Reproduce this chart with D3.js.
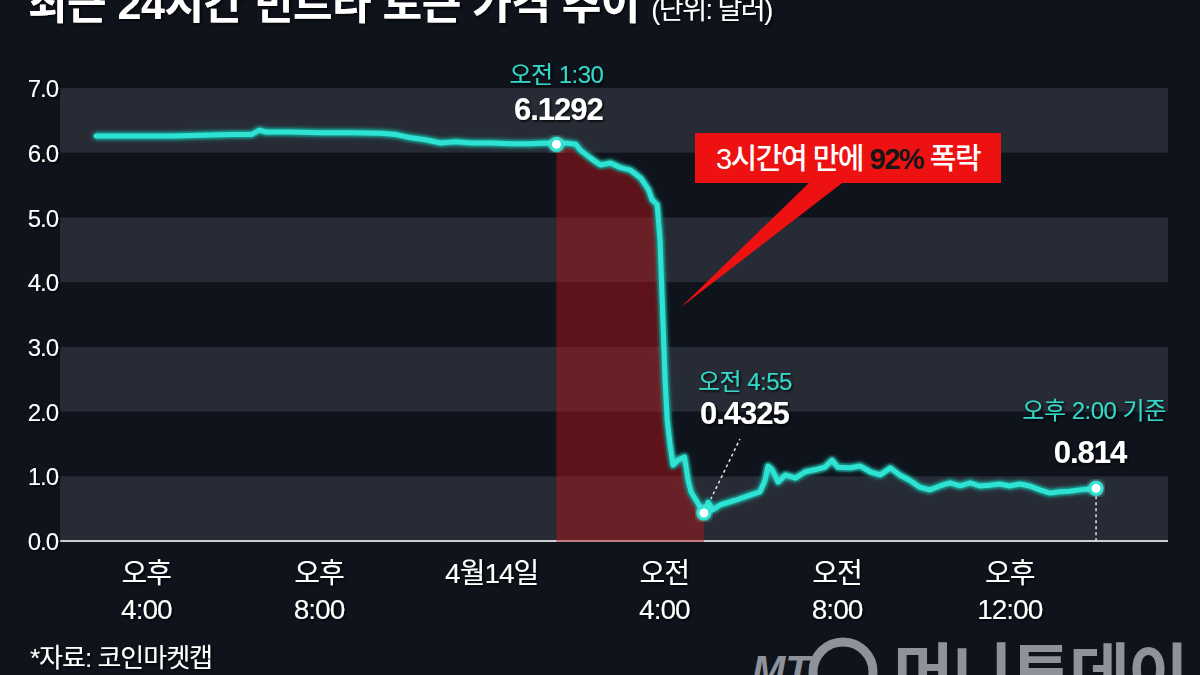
<!DOCTYPE html>
<html><head><meta charset="utf-8">
<script src="https://cdn.jsdelivr.net/npm/d3@7"></script>
<style>
html,body{margin:0;padding:0;background:#0e131c;}
svg{display:block;}
text{font-family:"Liberation Sans","Noto Sans CJK KR",sans-serif;}
</style></head>
<body>
<svg id="c" width="1200" height="675"></svg>
<script>
// ---------- data ----------
const titleText = "최근 24시간 빈트라 토큰 가격 추이";
const unitText = "(단위: 달러)";
const sourceText = "*자료: 코인마켓캡";
const yTicks = [0, 1, 2, 3, 4, 5, 6, 7];
const xTickTimes = ["04-13 16:00", "04-13 20:00", "04-14 00:00", "04-14 04:00", "04-14 08:00", "04-14 12:00"];
const xTickLine1 = ["오후", "오후", "4월14일", "오전", "오전", "오후"];
const xTickLine2 = ["4:00", "8:00", "", "4:00", "8:00", "12:00"];
const times = [
 "04-13 14:50","04-13 15:40","04-13 16:35","04-13 17:16","04-13 18:00","04-13 18:26","04-13 18:37","04-13 18:46",
 "04-13 19:21","04-13 20:03","04-13 20:44","04-13 21:26","04-13 21:47","04-13 22:08","04-13 22:28","04-13 22:49",
 "04-13 23:10","04-13 23:31","04-14 00:00","04-14 00:26","04-14 00:54","04-14 01:15","04-14 01:30","04-14 01:43",
 "04-14 01:57","04-14 02:03","04-14 02:17","04-14 02:31","04-14 02:45","04-14 02:59","04-14 03:13","04-14 03:27",
 "04-14 03:38","04-14 03:43","04-14 03:50","04-14 03:54","04-14 03:57","04-14 04:01","04-14 04:04","04-14 04:08",
 "04-14 04:12","04-14 04:19","04-14 04:28","04-14 04:33","04-14 04:37","04-14 04:44","04-14 04:55","04-14 05:01",
 "04-14 05:07","04-14 05:18","04-14 05:39","04-14 05:59","04-14 06:13","04-14 06:20","04-14 06:24","04-14 06:30",
 "04-14 06:38","04-14 06:48","04-14 07:02","04-14 07:16","04-14 07:29","04-14 07:43","04-14 07:53","04-14 08:01",
 "04-14 08:18","04-14 08:32","04-14 08:46","04-14 09:00","04-14 09:14","04-14 09:27","04-14 09:41","04-14 09:55",
 "04-14 10:09","04-14 10:23","04-14 10:37","04-14 10:51","04-14 11:05","04-14 11:18","04-14 11:32","04-14 11:46",
 "04-14 12:00","04-14 12:14","04-14 12:28","04-14 12:42","04-14 12:56","04-14 13:09","04-14 13:23","04-14 13:37",
 "04-14 14:00"];
const prices = [
 6.26,6.26,6.26,6.27,6.28,6.28,6.35,6.32,
 6.32,6.31,6.31,6.30,6.28,6.23,6.20,6.15,
 6.17,6.15,6.15,6.14,6.14,6.15,6.1292,6.15,
 6.13,6.04,5.92,5.81,5.84,5.77,5.73,5.61,
 5.43,5.27,5.20,4.65,3.72,2.49,1.87,1.48,
 1.17,1.25,1.30,0.94,0.76,0.63,0.4325,0.60,
 0.48,0.56,0.63,0.71,0.76,0.94,1.16,1.10,
 0.91,1.02,0.97,1.07,1.10,1.14,1.25,1.14,
 1.13,1.16,1.07,1.02,1.13,1.02,0.94,0.83,
 0.79,0.85,0.90,0.85,0.90,0.85,0.86,0.88,
 0.85,0.88,0.85,0.79,0.74,0.76,0.77,0.79,
 0.814];
const highlights = [
 {time: "04-14 01:30", label: "오전 1:30", value: "6.1292"},
 {time: "04-14 04:55", label: "오전 4:55", value: "0.4325"},
 {time: "04-14 14:00", label: "오후 2:00 기준", value: "0.814"}
];
const crashStart = "04-14 01:30", crashEnd = "04-14 04:55";
const calloutParts = [{t: "3시간여 만에 ", c: "#ffffff"}, {t: "92%", c: "#161616"}, {t: " 폭락", c: "#ffffff"}];

// ---------- setup ----------
const parse = d3.timeParse("%m-%d %H:%M");
const data = times.map((t, i) => ({t: parse(t), v: prices[i]}));
const svg = d3.select("#c");
const W = 1200, H = 675;
const plotL = 60, plotR = 1168;
const x = d3.scaleTime().domain([parse("04-13 14:00"), parse("04-14 15:40")]).range([plotL, plotR]);
const y = d3.scaleLinear().domain([0, 7]).range([541, 88]);
const cyan = "#2fe3d3";

svg.append("rect").attr("width", W).attr("height", H).attr("fill", "#0e131c");

const defs = svg.append("defs");
const glow = defs.append("filter").attr("id", "glow").attr("x", "-20%").attr("y", "-20%").attr("width", "140%").attr("height", "140%");
glow.append("feGaussianBlur").attr("stdDeviation", 2.5).attr("result", "b");
const m = glow.append("feMerge");
m.append("feMergeNode").attr("in", "b");
m.append("feMergeNode").attr("in", "SourceGraphic");
const shadow = defs.append("filter").attr("id", "ts").attr("x", "-10%").attr("y", "-30%").attr("width", "120%").attr("height", "160%");
shadow.append("feDropShadow").attr("dx", 1.5).attr("dy", 1.5).attr("stdDeviation", 1).attr("flood-color", "#000").attr("flood-opacity", 0.9);

// bands
svg.append("g").selectAll("rect").data([0, 2, 4, 6]).join("rect")
  .attr("x", plotL).attr("width", plotR - plotL)
  .attr("y", d => y(d + 1)).attr("height", d => y(d) - y(d + 1))
  .attr("fill", "#262b35");

// baseline
svg.append("line").attr("x1", plotL).attr("x2", plotR).attr("y1", y(0)).attr("y2", y(0))
  .attr("stroke", "#c9ccd3").attr("stroke-width", 2);

// red crash area
const t0 = parse(crashStart), t1 = parse(crashEnd);
const crash = data.filter(d => d.t >= t0 && d.t <= t1);
svg.append("path").datum(crash)
  .attr("d", d3.area().x(d => x(d.t)).y0(y(0) + 1).y1(d => y(d.v)))
  .attr("fill", "rgba(190,20,22,0.45)");

// y axis labels
const yAxis = d3.axisLeft(y).tickValues(yTicks).tickFormat(d3.format(".1f")).tickSize(0).tickPadding(0);
const gy = svg.append("g").attr("transform", `translate(${plotL - 2},0)`).call(yAxis);
gy.select(".domain").remove();
gy.selectAll("text").attr("fill", "#ffffff").attr("font-size", 24).attr("letter-spacing", -1)
  .attr("font-family", "'Liberation Sans',sans-serif").attr("filter", "url(#ts)").attr("dy", "0.36em");

// x axis labels
const xt = xTickTimes.map(parse);
const gx = svg.append("g");
gx.selectAll("text.l1").data(xt).join("text").attr("class", "l1")
  .attr("x", d => x(d)).attr("y", 583).attr("text-anchor", "middle")
  .attr("fill", "#fff").attr("font-size", 28).attr("filter", "url(#ts)").attr("letter-spacing", -1)
  .text((d, i) => xTickLine1[i]);
gx.selectAll("text.l2").data(xt).join("text").attr("class", "l2")
  .attr("x", d => x(d)).attr("y", 619).attr("text-anchor", "middle")
  .attr("fill", "#fff").attr("font-size", 28).attr("filter", "url(#ts)").attr("letter-spacing", -1)
  .text((d, i) => xTickLine2[i]);

// dashed leader lines
const hp = highlights.map(h => { const t = parse(h.time); const d = data.find(e => +e.t === +t); return {...h, px: x(t), py: y(d.v)}; });
svg.append("line").attr("x1", hp[1].px + 4).attr("y1", hp[1].py - 8).attr("x2", hp[1].px + 36).attr("y2", hp[1].py - 74)
  .attr("stroke", "#e6e6e6").attr("stroke-width", 1.5).attr("stroke-dasharray", "3,3");
svg.append("line").attr("x1", hp[2].px).attr("y1", hp[2].py + 8).attr("x2", hp[2].px).attr("y2", y(0))
  .attr("stroke", "#e6e6e6").attr("stroke-width", 1.5).attr("stroke-dasharray", "3,3");

// price line
const line = d3.line().x(d => x(d.t)).y(d => y(d.v));
svg.append("path").datum(data).attr("d", line).attr("fill", "none")
  .attr("stroke", "#0c4d49").attr("stroke-width", 9).attr("stroke-linejoin", "round").attr("opacity", 0.85);
svg.append("path").datum(data).attr("d", line).attr("fill", "none")
  .attr("stroke", cyan).attr("stroke-width", 5).attr("stroke-linejoin", "round").attr("stroke-linecap", "round")
  .attr("filter", "url(#glow)");

// markers
svg.append("g").selectAll("circle").data(hp).join("circle")
  .attr("cx", d => d.px).attr("cy", d => d.py).attr("r", 6)
  .attr("fill", "#ffffff").attr("stroke", cyan).attr("stroke-width", 3).attr("filter", "url(#glow)");

// annotation texts
const ann = [
  {lx: hp[0].px, ly: 83, vx: hp[0].px + 2, vy: 120, anchor: "middle"},
  {lx: hp[1].px - 6, ly: 390, vx: hp[1].px - 4, vy: 424, anchor: "start"},
  {lx: hp[2].px - 2, ly: 419, vx: hp[2].px - 6, vy: 463, anchor: "middle"}
];
hp.forEach((h, i) => {
  const a = ann[i];
  svg.append("text").attr("x", a.lx).attr("y", a.ly).attr("text-anchor", a.anchor)
    .attr("fill", "#35d8c8").attr("font-size", 24).attr("letter-spacing", -0.5).attr("filter", "url(#ts)").text(h.label);
  svg.append("text").attr("x", a.vx).attr("y", a.vy).attr("text-anchor", a.anchor)
    .attr("fill", "#ffffff").attr("font-size", 31).attr("font-weight", "bold").attr("letter-spacing", -1)
    .attr("filter", "url(#ts)").text(h.value);
});

// callout
const cg = svg.append("g");
cg.append("path").attr("d", "M812,180 L846,180 L680,308 Z").attr("fill", "#ee1111");
cg.append("rect").attr("x", 695).attr("y", 133).attr("width", 306).attr("height", 50).attr("fill", "#ee1111");
const ct = cg.append("text").attr("x", 848).attr("y", 169).attr("text-anchor", "middle")
  .attr("font-size", 29).attr("font-weight", 500).attr("letter-spacing", -1.5).attr("font-family", "'Noto Sans CJK KR',sans-serif");
ct.selectAll("tspan").data(calloutParts).join("tspan").attr("fill", d => d.c)
  .attr("font-weight", d => d.t === "92%" ? "bold" : 500).text(d => d.t);

// title (cropped at top like reference)
const tt = svg.append("text").attr("x", 28).attr("y", 19).attr("filter", "url(#ts)")
  .attr("font-family", "'Noto Sans CJK KR',sans-serif");
tt.append("tspan").attr("fill", "#fff").attr("font-size", 43).attr("font-weight", "bold").attr("letter-spacing", -0.5).text(titleText + " ");
tt.append("tspan").attr("fill", "#fff").attr("font-size", 27).attr("letter-spacing", -1.5).text(unitText);

// source
svg.append("text").attr("x", 30).attr("y", 667).attr("fill", "#fff").attr("font-size", 26)
  .attr("letter-spacing", -1).attr("font-family", "'Noto Sans CJK KR',sans-serif").attr("filter", "url(#ts)").text(sourceText);

// logo
const lg = svg.append("g").attr("fill", "#8e929a");
lg.append("text").attr("x", 752).attr("y", 684).attr("font-size", 40).attr("font-style", "italic").attr("font-weight", "bold").text("MT");
lg.append("circle").attr("cx", 843).attr("cy", 672).attr("r", 30).attr("fill", "none").attr("stroke", "#8e929a").attr("stroke-width", 9);
lg.append("text").attr("x", 893).attr("y", 698).attr("font-size", 66).attr("font-weight", "bold")
  .attr("font-family", "'Noto Sans CJK KR',sans-serif").attr("letter-spacing", -2).text("머니투데이");
</script>
</body></html>
